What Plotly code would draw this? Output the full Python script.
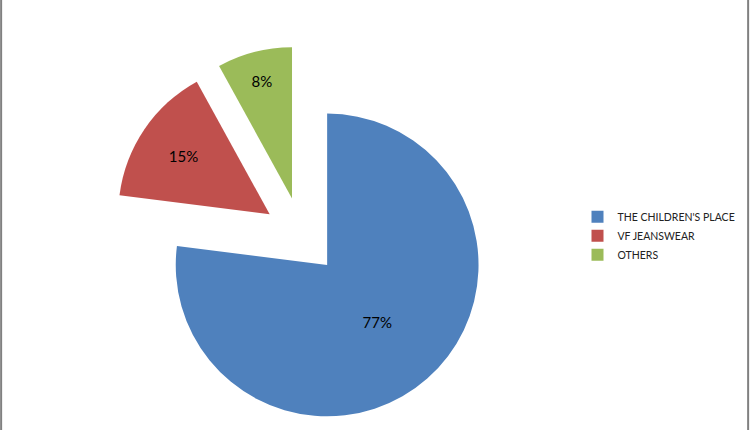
import plotly.graph_objects as go

labels = ["THE CHILDREN'S PLACE", "VF JEANSWEAR", "OTHERS"]
values = [77, 15, 8]
colors = ["#4F81BD", "#C0504D", "#9BBB59"]
pulls = [0.255, 0.255, 0.255]

fig = go.Figure(go.Pie(
    labels=labels,
    values=values,
    sort=False,
    direction="clockwise",
    rotation=0,
    pull=pulls,
    marker=dict(colors=colors, line=dict(width=0)),
    textinfo="percent",
    texttemplate="%{percent:.0%}",
    textposition="inside",
    insidetextorientation="horizontal",
    textfont=dict(family="Lato, Open Sans, sans-serif", size=15, color="#000000"),
    hoverinfo="label+percent",
    domain=dict(x=[0.1488, 0.6555], y=[0.0093, 0.893]),
))

fig.update_layout(
    width=750,
    height=430,
    margin=dict(l=0, r=0, t=0, b=0),
    paper_bgcolor="white",
    plot_bgcolor="white",
    showlegend=True,
    legend=dict(
        x=0.77, y=0.452, xanchor="left", yanchor="middle",
        font=dict(family="Lato, Open Sans, sans-serif", size=10.5, color="#222222"),
        itemsizing="constant",
        bgcolor="rgba(0,0,0,0)",
    ),
    shapes=[
        dict(type="line", xref="paper", yref="paper", x0=0.0015, x1=0.0015, y0=0, y1=1,
             line=dict(color="#808080", width=2)),
        dict(type="line", xref="paper", yref="paper", x0=0.9975, x1=0.9975, y0=0, y1=1,
             line=dict(color="#808080", width=2)),
    ],
)

fig.write_html(
    "out.html",
    config={"displayModeBar": False},
    post_script="document.body.style.margin='0';document.body.style.overflow='hidden';",
)
